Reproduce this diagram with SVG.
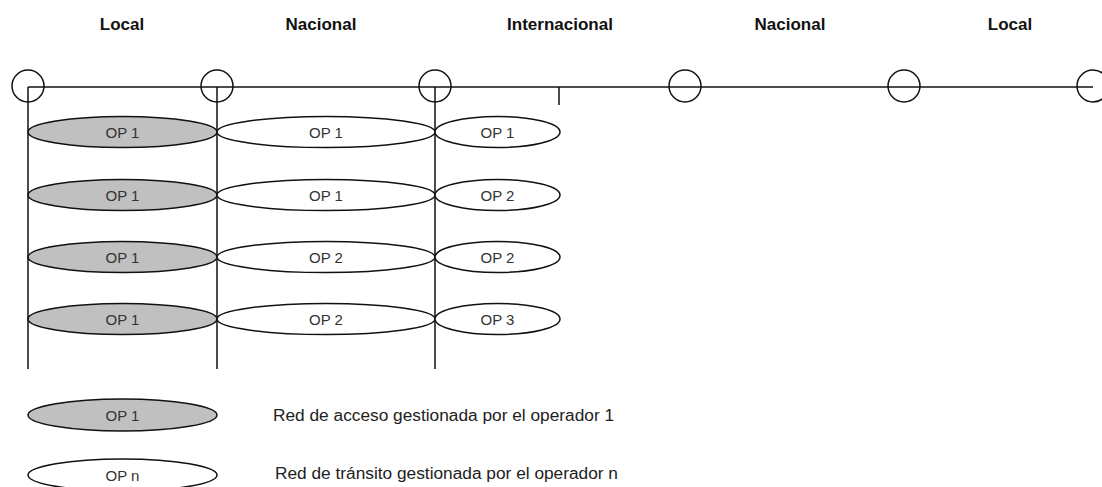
<svg xmlns="http://www.w3.org/2000/svg" width="1102" height="487" viewBox="0 0 1102 487">
<style>
.title{font-family:"Liberation Sans",Arial,sans-serif;font-weight:bold;font-size:17px;fill:#111;text-anchor:middle}
.lbl{font-family:"Liberation Sans",Arial,sans-serif;font-size:15px;fill:#333;text-anchor:middle;dominant-baseline:central}
.leg{font-family:"Liberation Sans",Arial,sans-serif;font-size:17.3px;fill:#222}
.ln{stroke:#111;stroke-width:1.5;fill:none}
.node{stroke:#111;stroke-width:1.5;fill:none}
.acc{stroke:#111;stroke-width:1.5;fill:#c0c0c0}
.tr{stroke:#111;stroke-width:1.5;fill:#fff}
</style>
<rect width="1102" height="487" fill="#fff"/>
<g id="titles">
<text class="title" x="122" y="30">Local</text>
<text class="title" x="321" y="30">Nacional</text>
<text class="title" x="560" y="30">Internacional</text>
<text class="title" x="790" y="30">Nacional</text>
<text class="title" x="1010" y="30">Local</text>
</g>
<g id="connectors">
<line class="ln" x1="28" y1="87" x2="1093" y2="87"/>
<line class="ln" x1="28" y1="87" x2="28" y2="369"/>
<line class="ln" x1="217" y1="87" x2="217" y2="369"/>
<line class="ln" x1="435" y1="87" x2="435" y2="369"/>
<line class="ln" x1="559" y1="87" x2="559" y2="105"/>
</g>
<g id="nodes-circles">
<circle id="n1" class="node" cx="28" cy="86" r="16"/>
<circle id="n2" class="node" cx="217" cy="86" r="16"/>
<circle id="n3" class="node" cx="435" cy="86" r="16"/>
<circle id="n4" class="node" cx="685" cy="86" r="16"/>
<circle id="n5" class="node" cx="904" cy="86" r="16"/>
<circle id="n6" class="node" cx="1093" cy="86" r="16"/>
</g>
<g id="row1">
<g id="r1a"><ellipse class="acc" cx="122.5" cy="132" rx="94.5" ry="15.5"/><text class="lbl" x="122.5" y="132">OP 1</text></g>
<g id="r1b"><ellipse class="tr" cx="326" cy="132" rx="109" ry="15.5"/><text class="lbl" x="326" y="132">OP 1</text></g>
<g id="r1c"><ellipse class="tr" cx="497.5" cy="132" rx="62.5" ry="15.5"/><text class="lbl" x="497.5" y="132">OP 1</text></g>
</g>
<g id="row2">
<g id="r2a"><ellipse class="acc" cx="122.5" cy="195" rx="94.5" ry="15.5"/><text class="lbl" x="122.5" y="195">OP 1</text></g>
<g id="r2b"><ellipse class="tr" cx="326" cy="195" rx="109" ry="15.5"/><text class="lbl" x="326" y="195">OP 1</text></g>
<g id="r2c"><ellipse class="tr" cx="497.5" cy="195" rx="62.5" ry="15.5"/><text class="lbl" x="497.5" y="195">OP 2</text></g>
</g>
<g id="row3">
<g id="r3a"><ellipse class="acc" cx="122.5" cy="257" rx="94.5" ry="15.5"/><text class="lbl" x="122.5" y="257">OP 1</text></g>
<g id="r3b"><ellipse class="tr" cx="326" cy="257" rx="109" ry="15.5"/><text class="lbl" x="326" y="257">OP 2</text></g>
<g id="r3c"><ellipse class="tr" cx="497.5" cy="257" rx="62.5" ry="15.5"/><text class="lbl" x="497.5" y="257">OP 2</text></g>
</g>
<g id="row4">
<g id="r4a"><ellipse class="acc" cx="122.5" cy="319" rx="94.5" ry="15.5"/><text class="lbl" x="122.5" y="319">OP 1</text></g>
<g id="r4b"><ellipse class="tr" cx="326" cy="319" rx="109" ry="15.5"/><text class="lbl" x="326" y="319">OP 2</text></g>
<g id="r4c"><ellipse class="tr" cx="497.5" cy="319" rx="62.5" ry="15.5"/><text class="lbl" x="497.5" y="319">OP 3</text></g>
</g>
<g id="legend-access">
<ellipse class="acc" cx="122.5" cy="415" rx="94.5" ry="16"/>
<text class="lbl" x="122.5" y="415">OP 1</text>
<text class="leg" x="273" y="421">Red de acceso gestionada por el operador 1</text>
</g>
<g id="legend-transit">
<ellipse class="tr" cx="122.5" cy="475" rx="94.5" ry="16"/>
<text class="lbl" x="122.5" y="475">OP n</text>
<text class="leg" x="275" y="479">Red de tránsito gestionada por el operador n</text>
</g>
</svg>
